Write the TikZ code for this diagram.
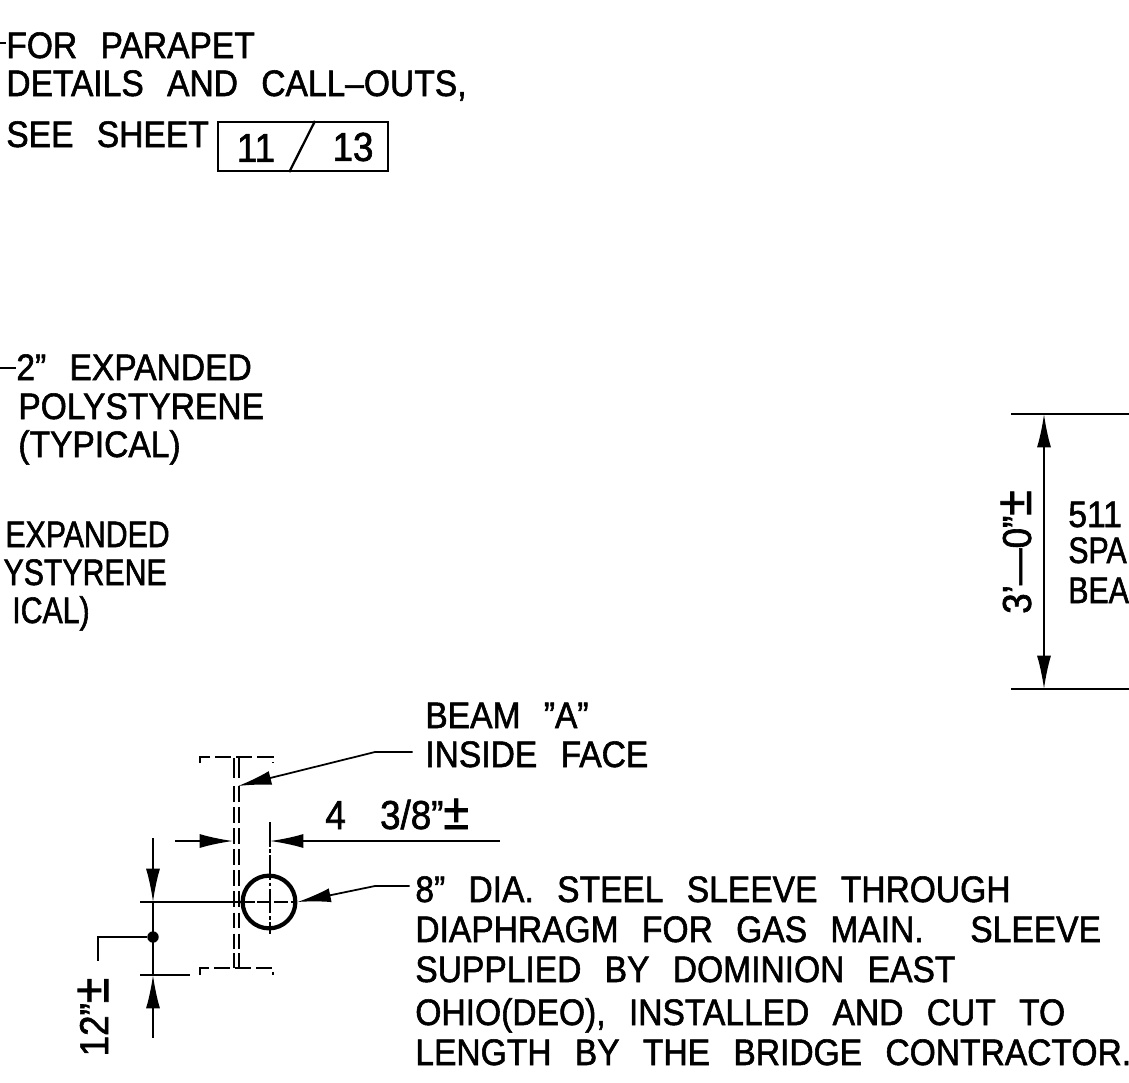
\documentclass[tikz,border=0pt]{standalone}
\usepackage{fontspec}
\setmainfont[WordSpace=2.5, FakeStretch=0.91, FakeBold=1.5]{Liberation Sans}
\newfontfamily\cutfont[FakeStretch=0.82, FakeBold=1.5]{Liberation Sans}
\usetikzlibrary{arrows.meta, calc}

\tikzset{
  note/.style={anchor=base west, inner sep=0pt, font=\fontsize{21}{21}\selectfont},
  noteend/.style={anchor=base east, inner sep=0pt, font=\cutfont\fontsize{21}{21}\selectfont},
  notecut/.style={anchor=base west, inner sep=0pt, font=\cutfont\fontsize{21}{21}\selectfont},
  dimtext/.style={inner sep=0pt, font=\fontsize{23}{23}\selectfont},
  line/.style={line width=1pt},
  hidden/.style={line width=1.3pt, dash pattern=on 9pt off 3pt},
  dimarrow/.style={line width=1pt, -{Latex[length=19pt, width=8pt]}},
  sleeve/.style={draw, circle, line width=2.4pt, inner sep=0pt, minimum size=30pt}
}
\newcommand{\plusminus}{{\fontsize{29}{29}\selectfont ±}}

\begin{document}
\begin{tikzpicture}[x=0.02cm, y=-0.02cm]
\useasboundingbox (0,0) rectangle (1129,1082);

% top note
\node[note] (parapet) at (6,58) {FOR PARAPET};
\node[note] (details) at (6,96) {DETAILS AND CALL--OUTS,};
\node[note] (sheet) at (6,147) {SEE SHEET};
\node[draw, line width=1.3pt, minimum width=96.4pt, minimum height=27.8pt, inner sep=0pt] (sheetbox) at (303,146.5) {};
\node[dimtext] (sheetno) at (256,148) {11};
\node[dimtext] (sheetall) at (353,147) {13};
\draw[line width=1.3pt] ($(sheetbox.north west)!0.57!(sheetbox.north east)$) -- ($(sheetbox.south west)!0.42!(sheetbox.south east)$);
\coordinate (parapetend) at (0,43);
\draw[line] (parapetend) -- (parapet.west |- parapetend);

% polystyrene notes
\node[note] (foam) at (16,380) {2" EXPANDED};
\node[note] (foamb) at (18,419) {POLYSTYRENE};
\node[note] (foamc) at (18,457) {(TYPICAL)};
\coordinate (foamend) at (0,368);
\draw[line] (foamend) -- (foam.west |- foamend);
\node[noteend] (lowfoam) at (170,547) {EXPANDED};
\node[noteend] (lowfoamb) at (167,585) {YSTYRENE};
\node[noteend] (lowfoamc) at (90,623) {ICAL)};

% 3'-0" dimension
\coordinate (spantopa) at (1011,414);
\coordinate (spantopb) at (1129,414);
\coordinate (spanbota) at (1011,689);
\coordinate (spanbotb) at (1129,689);
\coordinate (spanup) at (1044,414);
\coordinate (spandown) at (1044,689);
\coordinate (spanmid) at (1044,550);
\draw[line] (spantopa) -- (spantopb);
\draw[line] (spanbota) -- (spanbotb);
\draw[dimarrow] (spanmid) -- (spanup);
\draw[dimarrow] (spanmid) -- (spandown);
\node[dimtext, rotate=90] (spandim) at (1016,552) {3'---0"\plusminus};
\node[note] (spana) at (1068,527) {511};
\node[notecut] (spanb) at (1068,563) {SPA};
\node[notecut] (spanc) at (1068,603) {BEA};

% beam section
\coordinate (ftla) at (200,763);
\coordinate (ftlb) at (200,757);
\coordinate (ftra) at (273,757);
\coordinate (ftrb) at (273,763);
\coordinate (fbla) at (200,975);
\coordinate (fblb) at (200,968);
\coordinate (fbra) at (273,968);
\coordinate (fbrb) at (273,975);
\draw[hidden] (ftla) -- (ftlb) -- (ftra) -- (ftrb);
\draw[hidden] (fbla) -- (fblb) -- (fbra) -- (fbrb);
\coordinate (weba) at (234,786);
\coordinate (webb) at (234,952);
\coordinate (webc) at (239,786);
\coordinate (webd) at (239,952);
\draw[hidden] (weba) -- (webb);
\draw[hidden] (webc) -- (webd);
\coordinate (stema) at (234,758);
\coordinate (stemb) at (234,778);
\coordinate (stemc) at (239,758);
\coordinate (stemd) at (239,778);
\coordinate (stubac) at (234,953);
\coordinate (stubad) at (234,968);
\coordinate (stubbc) at (239,953);
\coordinate (stubbd) at (239,968);
\draw[line] (stema) -- (stemb);
\draw[line] (stemc) -- (stemd);
\draw[line] (stubac) -- (stubad);
\draw[line] (stubbc) -- (stubbd);

% sleeve
\node[sleeve] (pipe) at (269,902) {};
\coordinate (pipetop) at (270,822);
\coordinate (pipebot) at (270,934);
\coordinate (pipeleft) at (140,902);
\draw[line, line width=0.8pt, dash pattern=on 14pt off 1.5pt on 2pt off 1.5pt] (pipetop) -- (pipebot);
\draw[line] (pipeleft) -- (pipe.west);
\draw[line, line width=0.8pt, dash pattern=on 8pt off 1.5pt] (pipe.west) -- (pipe.east);

% 4 3/8" dimension
\coordinate (widtha) at (175,841);
\coordinate (widthb) at (233,841);
\coordinate (widthc) at (500,841);
\coordinate (widthd) at (270,841);
\draw[dimarrow] (widtha) -- (widthb);
\draw[dimarrow] (widthc) -- (widthd);
\node[dimtext, anchor=base west] (widthdim) at (325,829) {4\hspace{5pt} 3/8"\plusminus};

% 12" dimension
\coordinate (riseta) at (153,838);
\coordinate (risetb) at (153,902);
\coordinate (riseba) at (153,1038);
\coordinate (risebb) at (153,975);
\coordinate (risea) at (140,975);
\coordinate (riseb) at (190,975);
\draw[dimarrow] (riseta) -- (risetb);
\draw[dimarrow] (riseba) -- (risebb);
\draw[line] (risetb) -- (risebb);
\draw[line] (risea) -- (riseb);
\node[fill, circle, inner sep=0pt, minimum size=6.5pt] (risedot) at (153,937) {};
\coordinate (riseelbow) at (98,937);
\coordinate (riseend) at (98,961);
\draw[line] (risedot) -- (riseelbow) -- (riseend);
\node[dimtext, rotate=90] (risedim) at (93,1017) {12"\plusminus};

% beam label
\node[note] (beam) at (425,728) {BEAM "A"};
\node[note] (inside) at (425,767) {INSIDE FACE};
\coordinate (insidebend) at (375,752);
\coordinate (insidetip) at (238,786);
\draw[dimarrow, shorten <=7pt] (inside.west |- insidebend) -- (insidebend) -- (insidetip);

% sleeve label
\node[note] (dia) at (415,902) {8" DIA. STEEL SLEEVE THROUGH};
\node[note] (diab) at (415,942) {DIAPHRAGM FOR GAS MAIN.\ \ SLEEVE};
\node[note] (diac) at (415,982) {SUPPLIED BY DOMINION EAST};
\node[note] (diad) at (415,1025) {OHIO(DEO), INSTALLED AND CUT TO};
\node[note] (diae) at (415,1065) {LENGTH BY THE BRIDGE CONTRACTOR.};
\coordinate (diabend) at (375,886);
\draw[dimarrow, shorten <=3pt] (dia.west |- diabend) -- (diabend) -- (pipe.east);

\end{tikzpicture}
\end{document}
